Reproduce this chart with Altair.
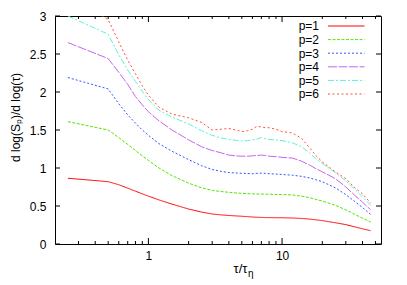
import altair as alt
import pandas as pd

tau = [0.25, 0.5, 0.6, 0.7, 0.8, 0.9, 1.0, 1.2, 1.5, 2, 2.5, 3, 3.5, 4, 4.5, 5, 5.5,
       6, 6.5, 7, 7.5, 8, 9, 10, 12, 14, 16, 18, 20, 25, 30, 35, 40, 46]

p1 = [0.865, 0.82, 0.78, 0.735, 0.695, 0.66, 0.63, 0.58, 0.525, 0.46, 0.42, 0.395, 0.383,
      0.375, 0.37, 0.365, 0.36, 0.355, 0.352, 0.35, 0.348, 0.347, 0.346, 0.345, 0.342,
      0.336, 0.328, 0.318, 0.308, 0.28, 0.255, 0.225, 0.2, 0.175]
p2 = [1.61, 1.50, 1.40, 1.31, 1.23, 1.16, 1.10, 1.00, 0.90, 0.80, 0.74, 0.705, 0.69, 0.68,
      0.672, 0.667, 0.663, 0.66, 0.658, 0.657, 0.656, 0.655, 0.652, 0.65, 0.645, 0.63,
      0.61, 0.585, 0.565, 0.51, 0.45, 0.39, 0.34, 0.29]
p3 = [2.19, 2.04, 1.845, 1.70, 1.59, 1.50, 1.43, 1.32, 1.22, 1.11, 1.03, 0.98, 0.955, 0.94,
      0.935, 0.93, 0.928, 0.925, 0.93, 0.932, 0.93, 0.925, 0.92, 0.915, 0.905, 0.89, 0.87,
      0.845, 0.82, 0.74, 0.65, 0.56, 0.48, 0.39]
p4 = [2.65, 2.44, 2.26, 2.10, 1.94, 1.83, 1.74, 1.62, 1.50, 1.37, 1.28, 1.23, 1.20, 1.17,
      1.16, 1.155, 1.155, 1.16, 1.165, 1.17, 1.165, 1.155, 1.15, 1.14, 1.13, 1.09, 1.04,
      0.99, 0.95, 0.86, 0.75, 0.64, 0.55, 0.45]
p5 = [3.0, 2.76, 2.49, 2.29, 2.14, 2.01, 1.90, 1.76, 1.67, 1.58, 1.49, 1.43, 1.395, 1.375,
      1.365, 1.355, 1.36, 1.37, 1.38, 1.40, 1.385, 1.375, 1.37, 1.36, 1.33, 1.28, 1.20,
      1.12, 1.06, 0.94, 0.83, 0.72, 0.62, 0.51]
p6 = [3.30, 2.95, 2.66, 2.42, 2.24, 2.08, 1.96, 1.80, 1.71, 1.66, 1.60, 1.50, 1.51, 1.52,
      1.50, 1.48, 1.49, 1.51, 1.55, 1.54, 1.53, 1.53, 1.51, 1.48, 1.46, 1.39, 1.27, 1.16,
      1.08, 0.95, 0.86, 0.74, 0.66, 0.54]

series_names = ["p=1", "p=2", "p=3", "p=4", "p=5", "p=6"]
series_values = [p1, p2, p3, p4, p5, p6]
colors = ["#ff0000", "#55e600", "#3355ff", "#c466ee", "#5ff0d8", "#ff5030"]
dashes = [[1, 0], [3, 1.5], [2, 2], [9, 1.5], [6, 2, 2, 2], [2, 2.5]]

x_major = [1, 10]
x_minor = [0.3, 0.4, 0.5, 0.6, 0.7, 0.8, 0.9, 2, 3, 4, 5, 6, 7, 8, 9, 20, 30, 40, 50]
y_ticks = [0, 0.5, 1, 1.5, 2, 2.5, 3]

y_title = "d log(S\u209a)/d log(\u03c4)"
x_title_main = "\u03c4/\u03c4"
x_title_sub = "\u03b7"

FONT = "Liberation Sans"
W, H = 326, 228

rows = []
for name, vals in zip(series_names, series_values):
    for t, v in zip(tau, vals):
        rows.append({"tau": t, "value": v, "series": name})
df = pd.DataFrame(rows)

xscale = alt.Scale(type="log", domain=[0.2, 55], nice=False)
yscale = alt.Scale(domain=[0, 3], nice=False, zero=False)
cscale = alt.Scale(domain=series_names, range=colors)
dscale = alt.Scale(domain=series_names, range=dashes)

xaxis = alt.Axis(values=x_major, format="~g", title=None, ticks=False,
                 domain=False, grid=False, labelFontSize=12, labelFont=FONT,
                 labelColor="black", labelPadding=6)
yaxis = alt.Axis(values=y_ticks, format="~g", title=None, ticks=False,
                 domain=False, grid=False, labelFontSize=12, labelFont=FONT,
                 labelColor="black", labelPadding=9)

lines = alt.Chart(df).mark_line(clip=True, strokeWidth=1).encode(
    x=alt.X("tau:Q", scale=xscale, axis=xaxis),
    y=alt.Y("value:Q", scale=yscale, axis=yaxis),
    color=alt.Color("series:N", scale=cscale, legend=None),
    strokeDash=alt.StrokeDash("series:N", scale=dscale, legend=None),
)

def xticks(vals, length):
    d = pd.DataFrame({"tau": vals})
    bottom = alt.Chart(d).mark_rule(color="black", strokeWidth=1).encode(
        x=alt.X("tau:Q", scale=xscale, axis=xaxis), y=alt.value(H), y2=alt.value(H - length))
    top = alt.Chart(d).mark_rule(color="black", strokeWidth=1).encode(
        x=alt.X("tau:Q", scale=xscale, axis=xaxis), y=alt.value(0), y2=alt.value(length))
    return [bottom, top]

yd = pd.DataFrame({"value": y_ticks})
yleft = alt.Chart(yd).mark_rule(color="black", strokeWidth=1).encode(
    y=alt.Y("value:Q", scale=yscale, axis=yaxis), x=alt.value(0), x2=alt.value(5))
yright = alt.Chart(yd).mark_rule(color="black", strokeWidth=1).encode(
    y=alt.Y("value:Q", scale=yscale, axis=yaxis), x=alt.value(W), x2=alt.value(W - 5))

# legend (gnuplot style: label on the left, line sample on the right)
legend_layers = []
for i, name in enumerate(series_names):
    ly = 10 + 13.6 * i
    one = pd.DataFrame({"series": [name]})
    legend_layers.append(alt.Chart(one).mark_text(
        align="right", baseline="alphabetic", fontSize=12, font=FONT, color="black").encode(
        x=alt.value(264), y=alt.value(ly + 4.3), text="series:N"))
    legend_layers.append(alt.Chart(one).mark_rule(strokeWidth=1).encode(
        x=alt.value(273), x2=alt.value(309.5), y=alt.value(ly),
        color=alt.Color("series:N", scale=cscale, legend=None),
        strokeDash=alt.StrokeDash("series:N", scale=dscale, legend=None)))

ytitle = alt.Chart(pd.DataFrame({"t": [y_title]})).mark_text(
    angle=270, align="center", baseline="alphabetic", fontSize=12, font=FONT,
    color="black").encode(x=alt.value(-35.5), y=alt.value(101.5), text="t:N")
xtitle1 = alt.Chart(pd.DataFrame({"t": [x_title_main]})).mark_text(
    align="right", baseline="alphabetic", fontSize=13, font=FONT,
    color="black").encode(x=alt.value(192.5), y=alt.value(257), text="t:N")
xtitle2 = alt.Chart(pd.DataFrame({"t": [x_title_sub]})).mark_text(
    align="left", baseline="alphabetic", fontSize=10, font=FONT,
    color="black").encode(x=alt.value(193), y=alt.value(261), text="t:N")

layers = ([lines] + xticks(x_major, 6) + xticks(x_minor, 3) + [yleft, yright]
          + legend_layers + [ytitle, xtitle1, xtitle2])

chart = alt.layer(*layers).properties(
    width=W, height=H,
    autosize=alt.AutoSizeParams(type="none"),
    padding={"left": 47, "top": 8, "right": 18, "bottom": 41},
).configure_view(stroke="black", strokeWidth=1)

chart.save("out.html", embed_options={"renderer": "svg", "actions": False})
